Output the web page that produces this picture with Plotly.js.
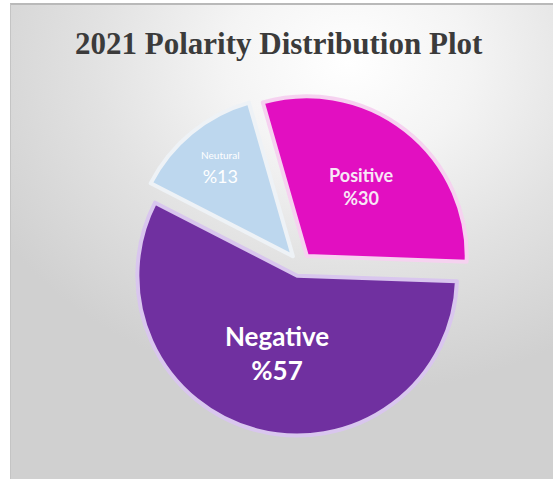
<!DOCTYPE html>
<html>
<head>
<meta charset="utf-8">
<script src="https://cdn.plot.ly/plotly-3.0.1.min.js"></script>
<style>
  html, body { margin: 0; padding: 0; background: #ffffff; width: 553px; height: 479px; overflow: hidden; }
  #panel {
    position: absolute; left: 10px; top: 3px; width: 543px; height: 474px;
    border-top: 2px solid #b9b9b9; border-left: 1px solid #c4c4c4; border-bottom: 2px solid #c2c2c2;
    background: radial-gradient(ellipse 75% 70% at 62% 12%, #ffffff 0%, #f4f4f4 30%, #e2e2e2 62%, #d0d0d0 100%);
  }
  #chart { position: absolute; left: 0; top: 0; width: 553px; height: 479px; }
</style>
</head>
<body>
<div id="panel"></div>
<div id="chart"></div>
<script>
const categories = ['Positive', 'Negative', 'Neutural'];
const percentValues = [30, 57, 13];
const sliceColors = ['#e20fc1', '#7030a0', '#bdd7ee'];
const chartTitle = '2021 Polarity Distribution Plot';

const trace = {
  type: 'pie',
  labels: categories,
  values: percentValues,
  sort: false,
  direction: 'clockwise',
  rotation: -16,
  pull: [0.07, 0.07, 0.07],
  marker: {
    colors: sliceColors,
    line: { color: ['#f6d2f0', '#d9c6ee', '#eef2f6'], width: 4 }
  },
  textposition: 'inside',
  insidetextorientation: 'horizontal',
  texttemplate: [
    '<b>%{label}</b><br><b>%%{value}</b>',
    '<b>%{label}</b><br><b>%%{value}</b>',
    '<span style="font-size:10px">%{label}</span><br>%%{value}'
  ],
  insidetextfont: {
    family: 'Lato, "Open Sans", sans-serif',
    size: [18, 26, 18],
    color: ['#f8e6f6', '#ffffff', '#ffffff']
  },
  hoverinfo: 'none',
  showlegend: false,
  domain: { x: [0.233, 0.852], y: [0.090, 0.804] }
};

const layout = {
  width: 553,
  height: 479,
  margin: { l: 0, r: 0, t: 0, b: 0 },
  paper_bgcolor: 'rgba(0,0,0,0)',
  plot_bgcolor: 'rgba(0,0,0,0)',
  title: {
    text: '<b>' + chartTitle + '</b>',
    font: { family: '"Liberation Serif", "Times New Roman", serif', size: 31, color: '#3b3b3b' },
    x: 0.504, xanchor: 'center',
    y: 0.91, yanchor: 'middle', yref: 'container'
  },
  showlegend: false
};

Plotly.newPlot('chart', [trace], layout, { displayModeBar: false, staticPlot: true });
</script>
</body>
</html>
